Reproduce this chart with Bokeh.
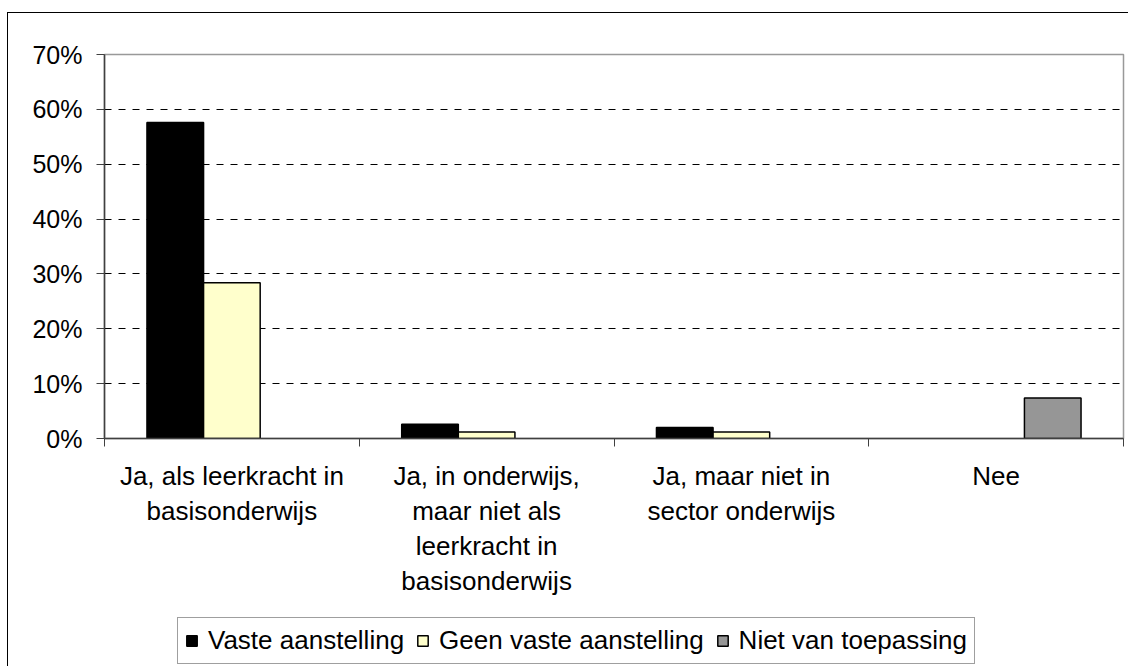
import numpy as np
from bokeh.plotting import figure
from bokeh.layouts import column
from bokeh.models import (Range1d, FixedTicker, NumeralTickFormatter, Legend,
                          LegendItem, ColumnDataSource)
from bokeh.embed import file_html
from bokeh.resources import INLINE

# ---- data ----
categories = [
    "Ja, als leerkracht in basisonderwijs",
    "Ja, in onderwijs, maar niet als leerkracht in basisonderwijs",
    "Ja, maar niet in sector onderwijs",
    "Nee",
]
tick_labels = [
    "Ja, als leerkracht in\nbasisonderwijs",
    "Ja, in onderwijs,\nmaar niet als\nleerkracht in\nbasisonderwijs",
    "Ja, maar niet in\nsector onderwijs",
    "Nee",
]
series_names = ["Vaste aanstelling", "Geen vaste aanstelling", "Niet van toepassing"]
vaste = [0.576, 0.026, 0.020, 0.0]
geen_vaste = [0.284, 0.012, 0.012, 0.0]
niet_van_toepassing = [0.0, 0.0, 0.0, 0.074]
y_ticks = [0.0, 0.1, 0.2, 0.3, 0.4, 0.5, 0.6, 0.7]

series_values = [vaste, geen_vaste, niet_van_toepassing]
series_colors = ["#000000", "#FFFFCC", "#969696"]

FONT = "Liberation Sans"

n = len(categories)
gap = 1.5
bar_w = 1.0 / (len(series_names) + gap)
centers = np.arange(n) + 0.5
offsets = (np.arange(len(series_names)) - 1) * bar_w

# ---- main chart ----
p = figure(width=1120, height=597, output_backend="svg", toolbar_location=None,
           x_range=Range1d(0, n), y_range=Range1d(0, 0.7),
           min_border_left=96, min_border_top=41, min_border_right=5,
           min_border_bottom=172)
p.background_fill_color = "white"
p.border_fill_color = "white"
p.outline_line_color = "#999999"
p.outline_line_width = 1.5

renderers = []
for vals, color, off in zip(series_values, series_colors, offsets):
    vals = np.asarray(vals)
    mask = vals > 0
    src = ColumnDataSource(dict(x=centers[mask] + off, top=vals[mask]))
    r = p.vbar(x="x", top="top", bottom=0, width=bar_w, source=src,
               fill_color=color, line_color="black", line_width=1.5)
    renderers.append(r)

# y axis
p.yaxis.ticker = FixedTicker(ticks=y_ticks)
p.yaxis.formatter = NumeralTickFormatter(format="0%")
p.yaxis.major_tick_out = 8
p.yaxis.major_tick_in = 0
p.yaxis.minor_tick_line_color = None
p.yaxis.major_label_standoff = 14
p.yaxis.axis_line_color = "#404040"
p.yaxis.major_tick_line_color = "#404040"
p.yaxis.axis_line_width = 1.5
p.yaxis.major_label_text_font = FONT
p.yaxis.major_label_text_font_size = "25px"
p.yaxis.major_label_text_color = "black"

# x axis: labels at centers, ticks at boundaries
p.xaxis.ticker = FixedTicker(ticks=list(centers), minor_ticks=list(np.arange(n + 1)))
p.xaxis.major_label_overrides = {float(c): lab for c, lab in zip(centers, tick_labels)}
p.xaxis.major_tick_line_color = None
p.xaxis.major_tick_out = 0
p.xaxis.major_tick_in = 0
p.xaxis.minor_tick_out = 8
p.xaxis.minor_tick_in = 0
p.xaxis.minor_tick_line_color = "#404040"
p.xaxis.axis_line_color = "#404040"
p.xaxis.axis_line_width = 1.5
p.xaxis.major_label_standoff = 14
p.xaxis.major_label_text_font = FONT
p.xaxis.major_label_text_font_size = "26px"
p.xaxis.major_label_text_line_height = 1.17
p.xaxis.major_label_text_color = "black"

# grid
p.xgrid.grid_line_color = None
p.ygrid.ticker = FixedTicker(ticks=y_ticks[1:-1])
p.ygrid.grid_line_color = "black"
p.ygrid.grid_line_dash = "7 7"
p.ygrid.grid_line_width = 1

# ---- legend strip: proxy renderers with no drawable height (NaN) ----
pl = figure(width=1120, height=56, output_backend="svg", toolbar_location=None,
            x_range=Range1d(0, n), y_range=Range1d(0, 0.7),
            x_axis_location=None, y_axis_location=None,
            min_border_left=0, min_border_right=0, min_border_top=0, min_border_bottom=0)
pl.grid.visible = False
pl.outline_line_color = None
pl.background_fill_color = "white"
pl.border_fill_color = "white"

legend_renderers = []
for color, off in zip(series_colors, offsets):
    proxy = ColumnDataSource(dict(x=centers + off, top=np.full(n, np.nan)))
    lr = pl.vbar(x="x", top="top", bottom=np.nan, width=bar_w, source=proxy,
                 fill_color=color, line_color="black", line_width=1.5)
    legend_renderers.append(lr)

legend = Legend(
    items=[LegendItem(label=name, renderers=[r]) for name, r in zip(series_names, legend_renderers)],
    orientation="horizontal", location=(73, 2),
    label_text_font=FONT, label_text_font_size="26px", label_text_color="black",
    glyph_width=13, glyph_height=13, label_standoff=10, spacing=12,
    padding=7, margin=0, border_line_color="#404040", border_line_width=1.5,
    background_fill_color="white", background_fill_alpha=1.0,
)
pl.add_layout(legend, "center")

layout = column(p, pl, spacing=0)
layout.margin = (12, 0, 0, 7)
layout.styles = {"border-left": "1px solid black", "border-top": "1px solid black"}

open("out.html", "w").write(file_html(layout, INLINE))
